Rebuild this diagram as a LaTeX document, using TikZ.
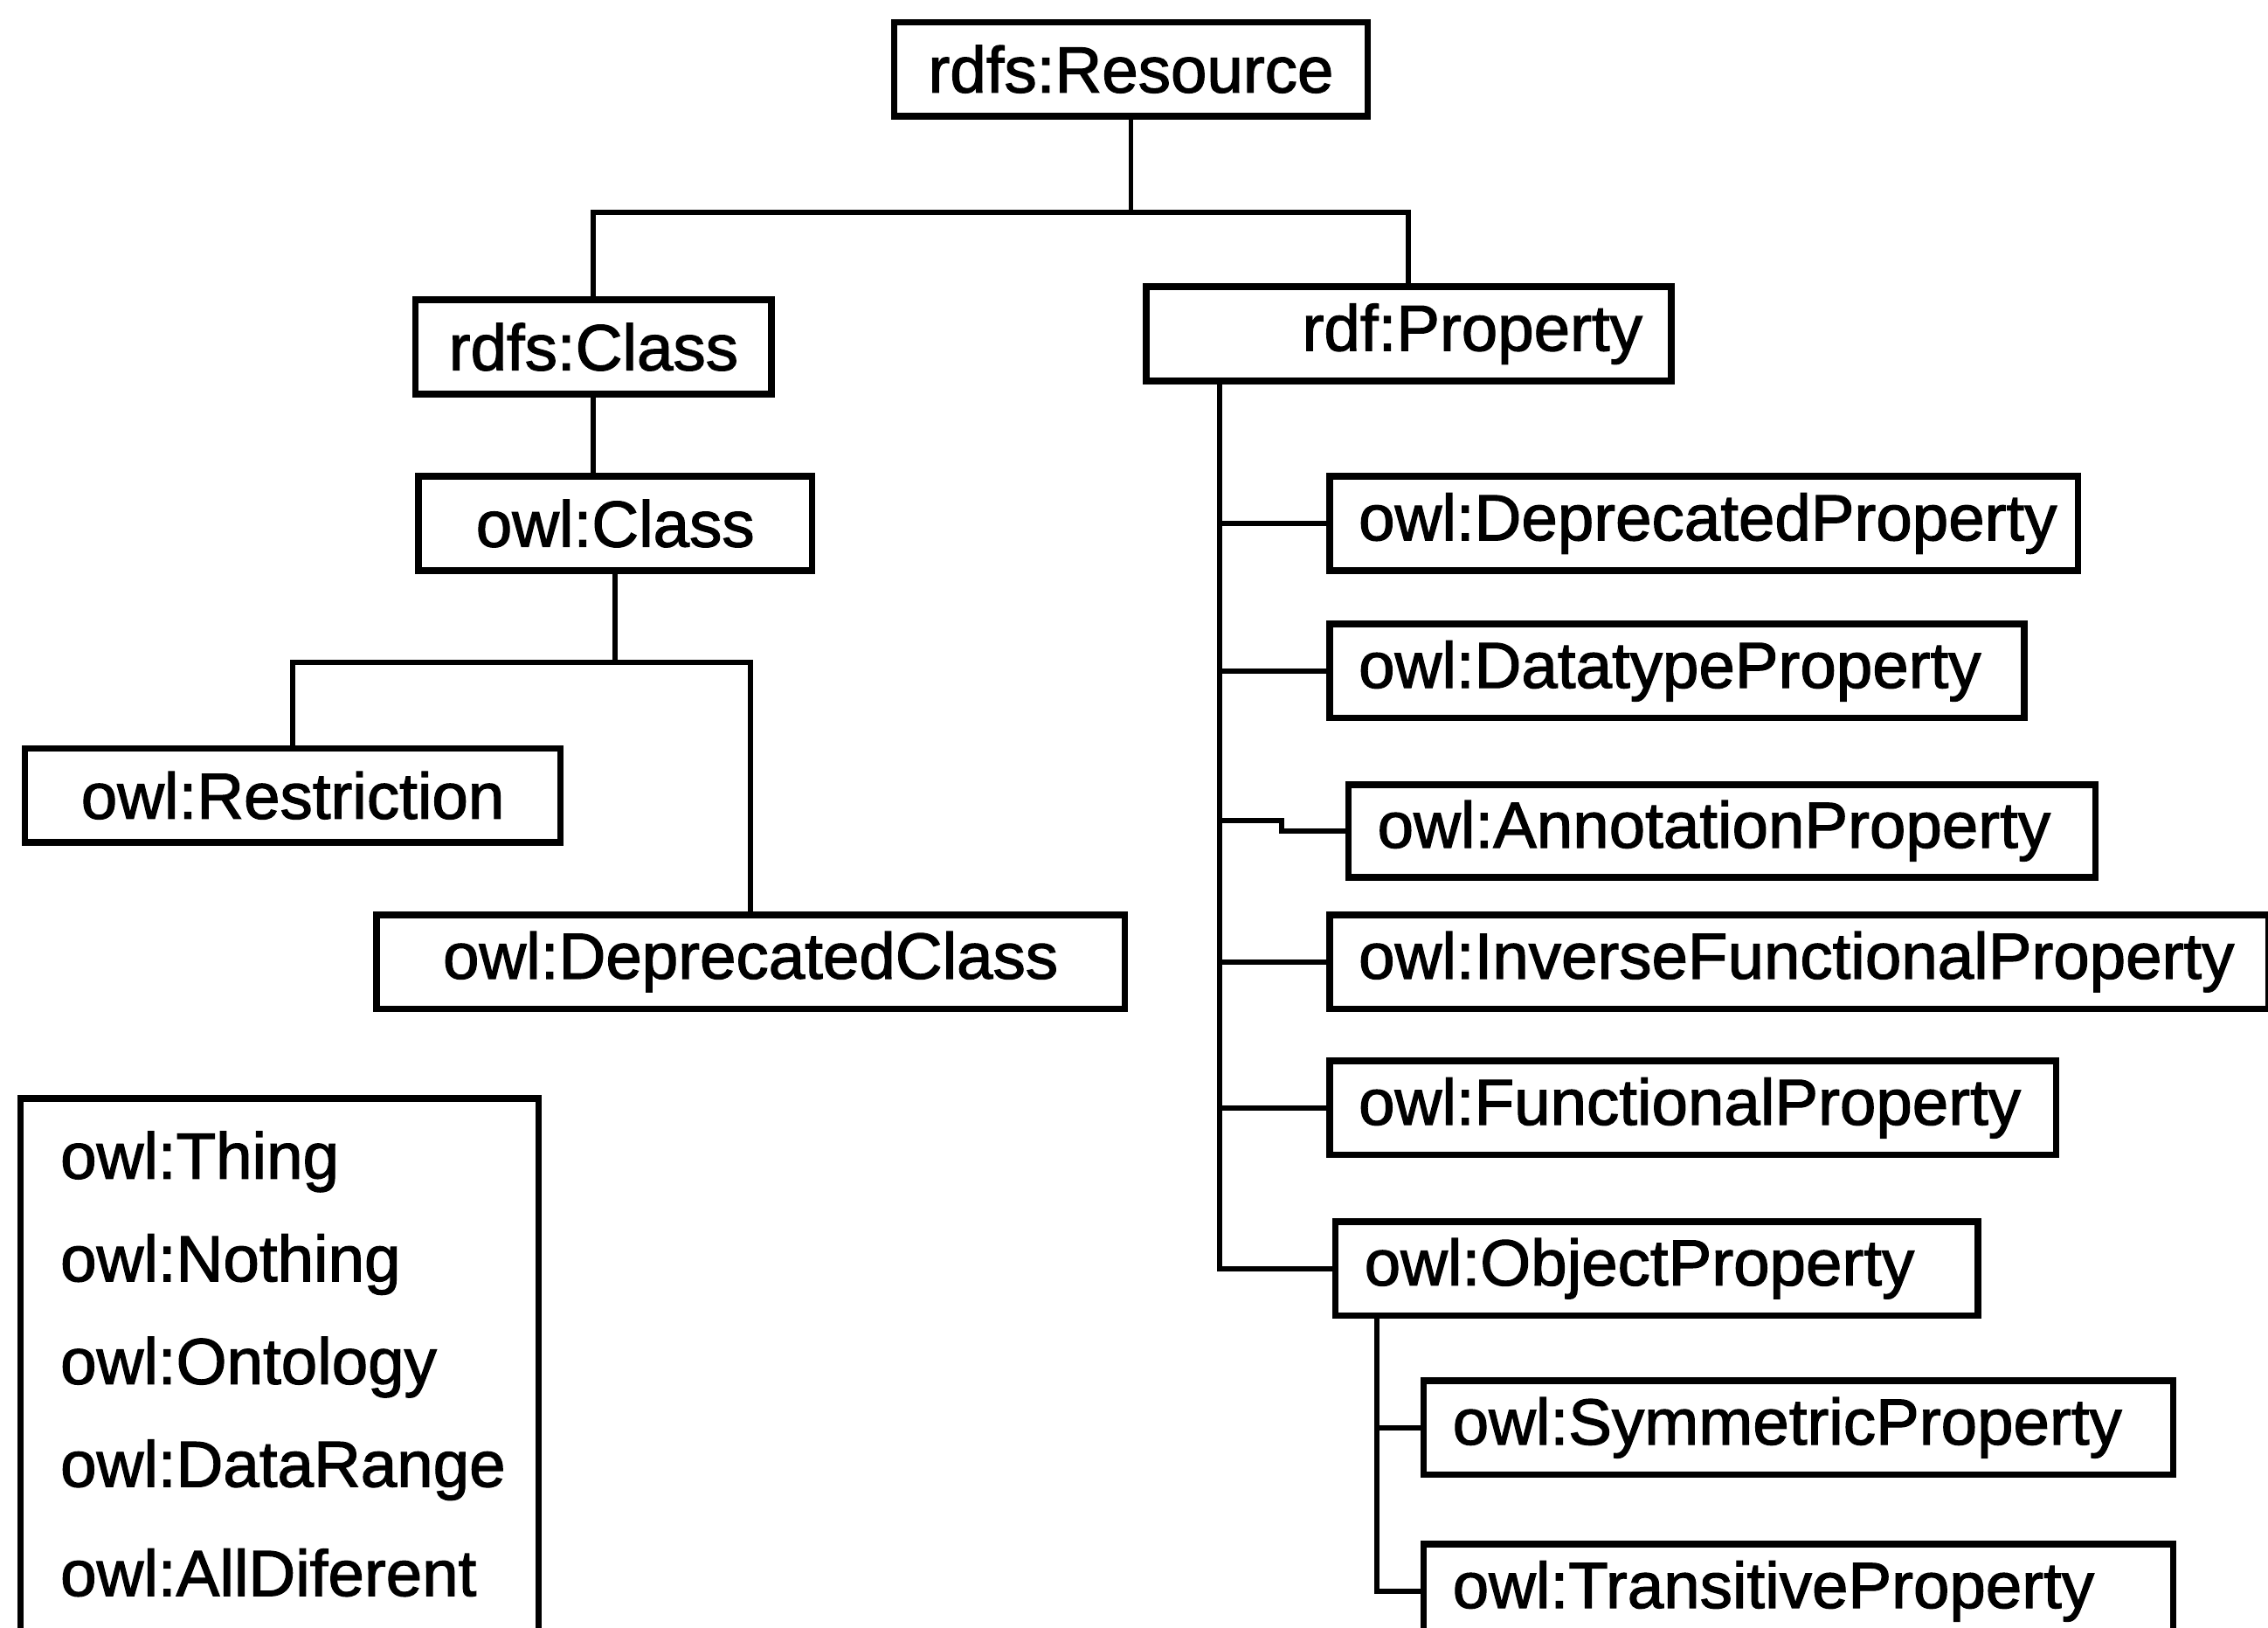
\documentclass[tikz,border=0pt]{standalone}
\usepackage{fontspec}
\setmainfont[FakeBold=1.6]{Liberation Sans}
\usepackage{tikz}
\def\boxh{0.65cm}

\begin{document}
\begin{tikzpicture}[x=0.01cm,y=-0.01cm,line width=1pt]
		\tikzstyle{every node}=[font=\fontsize{12.8}{15}\selectfont]
		\tikzstyle{term}=[draw,line width=1.3pt,anchor=north west,minimum height=\boxh,inner xsep=0.2cm,inner ysep=0pt]
		\tikzstyle{mid term}=[term, align=center]
		\tikzstyle{left term}=[term, align=left]
		\tikzstyle{right term}=[term, align=right]
		\tikzstyle{annot}=[anchor=west, inner sep=0pt]
		
		\clip (0,0) rectangle (1568,1125);
		
		% Draw the top classes
		\node[mid term, text width=2.87cm] (res) at (616,13) {rdfs:Resource};
		\node[mid term, text width=2.06cm] (cls) at (285,205) {rdfs:Class};
		\node[right term, text width=3.23cm] (prop) at (790,196) {rdf:Property};
		
		% Draw the class nodes
		\node[mid term, text width=2.32cm] (ocls) at (287,327) {owl:Class};
		\node[mid term, text width=3.30cm] (restr) at (15,515) {owl:Restriction};
		\node[mid term, text width=4.77cm] (dcls) at (258,630) {owl:DeprecatedClass};
		
		% Draw the property nodes
		\node[left term, text width=4.77cm] (dep) at (917,327) {owl:DeprecatedProperty};
		\node[left term, text width=4.40cm] (dtp) at (917,429) {owl:DatatypeProperty};
		\node[left term, text width=4.76cm, minimum height=0.64cm] (ann) at (930,540) {owl:AnnotationProperty};
		\node[left term, text width=6.09cm] (ifp) at (917,630) {owl:InverseFunctionalProperty};
		\node[left term, text width=4.62cm] (fp) at (917,731) {owl:FunctionalProperty};
		\node[left term, text width=4.04cm] (obj) at (921,842) {owl:ObjectProperty};
		\node[left term, text width=4.78cm] (sym) at (982,952) {owl:SymmetricProperty};
		\node[left term, text width=4.78cm] (trans) at (982,1065) {owl:TransitiveProperty};
		
		% Draw the legend box
		\node[draw, line width=1.3pt, anchor=north west, minimum width=3.58cm, minimum height=4.4cm] (legend) at (12,757) {};
		\foreach \t [count=\i] in {owl:Thing,owl:Nothing,owl:Ontology,owl:DataRange,owl:AllDiferent}
		\node[annot] (leg-\i) at (40,{732+71*\i}) {\t};
		
		% Connect rdfs:Resource with rdfs:Class and rdf:Property
		\path (res.south) ++(0,64) coordinate (rsplit);
		\draw (res.south) -- (rsplit);
		\draw (cls.north) |- (rsplit) -| (prop.north);
		
		% Connect rdfs:Class with owl:Class
		\draw (cls.south) -- (cls.south |- ocls.north);
		
		% Connect owl:Class with its subclasses
		\path (ocls.south) ++(0,61) coordinate (csplit);
		\draw (ocls.south) -- (csplit);
		\draw (restr.north) |- (csplit) -| (dcls.north);
		
		% Connect rdf:Property with every property node
		\path (prop.south west) ++(53,0) coordinate (trunk);
		\draw (trunk) |- (obj.west);
		\foreach \dest in {dep,dtp,ifp,fp}
		\draw (trunk |- \dest.west) -- (\dest.west);
		\draw (trunk |- 0,567) -- ++(43,0) |- (ann.west);
		
		% Connect owl:ObjectProperty with its subproperties
		\path (obj.south west) ++(31,0) coordinate (otrunk);
		\draw (otrunk) |- (trans.west);
		\draw (otrunk |- sym.west) -- (sym.west);
	\end{tikzpicture}
\end{document}
